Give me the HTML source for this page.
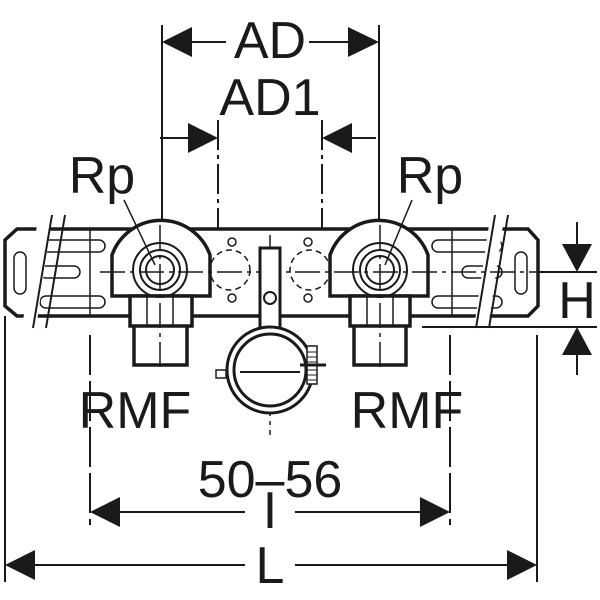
<!DOCTYPE html>
<html><head><meta charset="utf-8"><style>body{margin:0;background:#fff}svg{display:block}text{font-family:"Liberation Sans",sans-serif;fill:#1a1a1a}</style></head>
<body>
<svg width="600" height="600" viewBox="0 0 600 600" xmlns="http://www.w3.org/2000/svg">
<g stroke="#1a1a1a" fill="none" stroke-width="2">
<line x1="162" y1="25" x2="162" y2="235"/>
<line x1="379" y1="25" x2="379" y2="235" />
<line x1="192" y1="42" x2="226" y2="42"/>
<line x1="309" y1="42" x2="348" y2="42"/>
<line x1="218" y1="120" x2="218" y2="300" stroke-dasharray="30 5 4 5"/>
<line x1="322" y1="120" x2="322" y2="300" stroke-dasharray="30 5 4 5"/>
<line x1="160" y1="138" x2="190" y2="138"/>
<line x1="350" y1="138" x2="376" y2="138"/>
<!-- rail -->
<path d="M17 229 L528 229 L538 240 L538 306 L528 316 L17 316 L5 306 L5 240 Z" stroke-width="3.5" fill="#fff"/>
<path d="M90 229 V316 M452 229 V316" stroke-width="1.5"/>
<g stroke-width="1.5">
<rect x="14" y="252" width="12" height="42" rx="6"/>
<rect x="515" y="252" width="12" height="42" rx="6"/>
<rect x="40" y="240" width="65" height="12" rx="6"/><rect x="40" y="296" width="65" height="12" rx="6"/><rect x="40" y="266" width="40" height="12" rx="6"/>
<rect x="432" y="240" width="70" height="12" rx="6"/><rect x="432" y="296" width="70" height="12" rx="6"/><rect x="462" y="266" width="40" height="12" rx="6"/>
</g>
<g stroke-width="2">
<path d="M38 218 L52 218 L36 328 L22 328 Z" fill="#fff" stroke="none"/>
<path d="M52 215 L33 328 M65 215 L46 328"/>
<path d="M490 218 L504 218 L488 328 L474 328 Z" fill="#fff" stroke="none"/>
<path d="M495 215 L476 328 M508 215 L489 328"/>
</g>
<g stroke-width="1.5">
<circle cx="230" cy="270" r="20" stroke-dasharray="6 4"/>
<circle cx="310" cy="270" r="20" stroke-dasharray="6 4"/>
<circle cx="232" cy="242" r="4"/><circle cx="232" cy="298" r="4"/>
<circle cx="308" cy="242" r="4"/><circle cx="308" cy="298" r="4"/>
</g>
<g stroke-width="3.5" fill="#fff">
<path d="M112 296 L112 255 A52 52 0 0 1 210 255 L210 296 Z"/>
<path d="M330 296 L330 255 A52 52 0 0 1 428 255 L428 296 Z"/>
<path d="M130 296 H192 V326 H130 Z M134 326 V365 H187 V326"/>
<path d="M350 296 H410 V326 H350 Z M354 326 V365 H406 V326"/>
</g>
<g stroke-width="2">
<circle cx="160" cy="270" r="27"/><circle cx="160" cy="270" r="20"/><circle cx="160" cy="270" r="14"/>
<circle cx="380" cy="270" r="27"/><circle cx="380" cy="270" r="20"/><circle cx="380" cy="270" r="14"/>
<path d="M147 296 V326 M173 296 V326 M367 296 V326 M393 296 V326" stroke-width="1.5"/>
</g>
<g stroke-width="1.5" stroke-dasharray="25 5 4 5">
<line x1="100" y1="272" x2="580" y2="272"/>
<line x1="160" y1="225" x2="160" y2="370"/>
<line x1="380" y1="225" x2="380" y2="370"/>
<line x1="270" y1="235" x2="270" y2="435"/>
</g>
<g stroke-width="3" fill="#fff">
<path d="M260 248 H280 V330 H260 Z"/>
<circle cx="270" cy="370" r="43"/>
<circle cx="270" cy="370" r="36"/>
<rect x="307" y="346" width="10" height="38" stroke-width="1.5"/>
<path d="M300 365 H326" stroke-width="3"/>
<rect x="216" y="370" width="10" height="8" stroke-width="1.5"/>
</g>
<path d="M307 352 H317 M307 357 H317 M307 362 H317 M307 370 H317 M307 375 H317 M307 380 H317" stroke-width="1"/>
<line x1="240" y1="372" x2="300" y2="372" stroke-width="2"/>
<circle cx="270" cy="298" r="6" stroke-width="2"/>
<line x1="124" y1="200" x2="155" y2="265" stroke-width="1.5"/>
<line x1="412" y1="200" x2="385" y2="265" stroke-width="1.5"/>
<line x1="577" y1="222" x2="577" y2="245"/>
<line x1="577" y1="355" x2="577" y2="375"/>
<line x1="422" y1="327" x2="597" y2="327"/>
<line x1="540" y1="272" x2="597" y2="272"/>
<line x1="90" y1="335" x2="90" y2="525" stroke-dasharray="40 6"/>
<line x1="450" y1="335" x2="450" y2="525" stroke-dasharray="40 6"/>
<line x1="5" y1="316" x2="5" y2="582"/>
<line x1="537" y1="335" x2="537" y2="582"/>
<line x1="118" y1="512" x2="245" y2="512"/>
<line x1="295" y1="512" x2="422" y2="512"/>
<line x1="33" y1="565" x2="245" y2="565"/>
<line x1="295" y1="565" x2="509" y2="565"/>
</g>
<g fill="#1a1a1a">
<polygon points="162,42 192,27 192,57"/>
<polygon points="379,42 348,27 348,57"/>
<polygon points="218,138 188,123 188,153"/>
<polygon points="322,138 352,123 352,153"/>
<polygon points="577,272 562,244 592,244"/>
<polygon points="577,327 562,355 592,355"/>
<polygon points="90,512 120,497 120,527"/>
<polygon points="450,512 420,497 420,527"/>
<polygon points="5,565 35,550 35,580"/>
<polygon points="537,565 507,550 507,580"/>
</g>
<g font-size="52" text-anchor="middle">
<text x="270" y="58">AD</text>
<text x="270" y="115">AD1</text>
<text x="102" y="193">Rp</text>
<text x="430" y="193">Rp</text>
<text x="577" y="318">H</text>
<text x="135" y="428">RMF</text>
<text x="407" y="428">RMF</text>
<text x="270" y="497">50–56</text>
<text x="270" y="528">I</text>
<text x="270" y="583">L</text>
</g>
</svg>
</body></html>
